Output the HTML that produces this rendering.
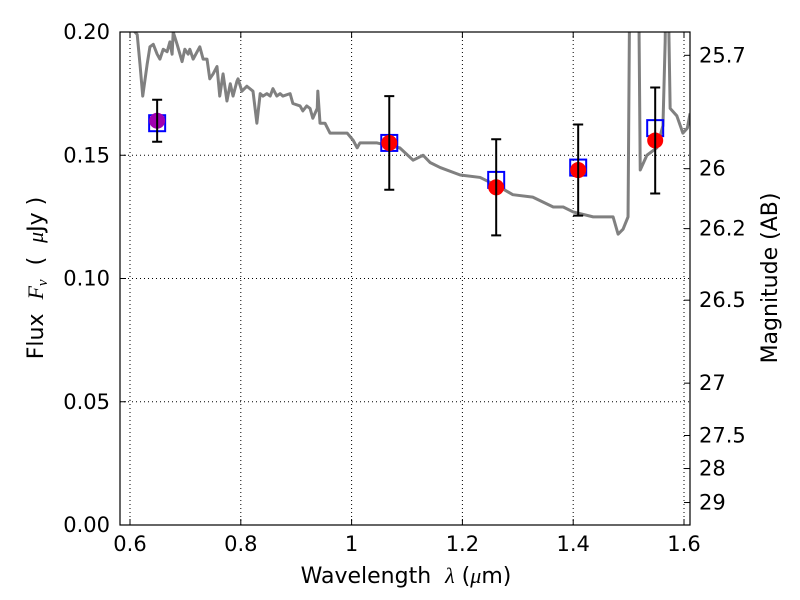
<!DOCTYPE html>
<html><head><meta charset="utf-8"><style>
body{margin:0;background:#fff}
svg{display:block;font-family:"DejaVu Sans","Liberation Sans",sans-serif}
</style></head><body>
<svg id="chart" width="800" height="600">
<g id="grid"></g>
<g id="spec"></g>
<g id="pts"></g>
<rect x="120" y="32" width="570" height="493" fill="none" stroke="#000" stroke-width="1.2"/>
<g id="ticks"></g>
<text x="406" y="583" font-size="22" text-anchor="middle" xml:space="preserve">Wavelength  <tspan font-style="italic" font-family="Liberation Serif">λ</tspan> (<tspan font-style="italic" font-family="Liberation Serif">μ</tspan>m)</text>
<text transform="translate(43,278) rotate(-90)" font-size="22" text-anchor="middle" xml:space="preserve">Flux  <tspan font-style="italic" font-family="Liberation Serif">F</tspan><tspan font-style="italic" font-family="Liberation Serif" font-size="15" dy="4">ν</tspan><tspan dy="-4">  (  </tspan><tspan font-style="italic" font-family="Liberation Serif">μ</tspan>Jy )</text>
<text transform="translate(777,278) rotate(-90)" font-size="22" text-anchor="middle">Magnitude (AB)</text>
</svg>
<script>
const xTicks=[0.6,0.8,1.0,1.2,1.4,1.6];
const xTickLabels=["0.6","0.8","1","1.2","1.4","1.6"];
const yTicks=[0,0.05,0.10,0.15,0.20];
const yTickLabels=["0.00","0.05","0.10","0.15","0.20"];
const magTicks=[25.7,26,26.2,26.5,27,27.5,28,29];
const magTickLabels=["25.7","26","26.2","26.5","27","27.5","28","29"];
const specWave=[0.605,0.613,0.618,0.623,0.631,0.636,0.642,0.649,0.654,0.660,0.667,0.672,0.676,0.678,0.685,0.694,0.699,0.705,0.708,0.714,0.726,0.732,0.739,0.744,0.750,0.757,0.762,0.768,0.775,0.781,0.786,0.793,0.795,0.802,0.811,0.822,0.829,0.835,0.840,0.847,0.853,0.858,0.865,0.871,0.876,0.889,0.894,0.907,0.912,0.919,0.925,0.930,0.938,0.939,0.943,0.952,0.961,0.974,0.992,1.003,1.010,1.015,1.028,1.046,1.064,1.087,1.111,1.129,1.142,1.160,1.196,1.232,1.268,1.291,1.327,1.364,1.382,1.400,1.436,1.448,1.472,1.481,1.490,1.499,1.503,1.517,1.521,1.533,1.551,1.562,1.566,1.569,1.575,1.587,1.598,1.606,1.611];
const specFlux=[0.201,0.199,0.187,0.174,0.187,0.194,0.195,0.191,0.189,0.193,0.192,0.196,0.191,0.200,0.195,0.188,0.193,0.191,0.193,0.189,0.194,0.189,0.189,0.181,0.183,0.186,0.174,0.183,0.172,0.179,0.174,0.180,0.181,0.176,0.178,0.176,0.163,0.175,0.174,0.175,0.174,0.177,0.174,0.175,0.174,0.175,0.171,0.170,0.168,0.170,0.169,0.165,0.169,0.176,0.163,0.163,0.159,0.159,0.159,0.156,0.153,0.155,0.155,0.155,0.154,0.153,0.148,0.150,0.147,0.145,0.142,0.141,0.137,0.134,0.133,0.129,0.129,0.127,0.125,0.125,0.125,0.118,0.120,0.125,0.25,0.25,0.144,0.150,0.153,0.162,0.196,0.25,0.169,0.166,0.159,0.161,0.167];
const obsWave=[0.649,1.068,1.261,1.409,1.548];
const obsFlux=[0.164,0.155,0.137,0.144,0.156];
const obsErr=[0.0085,0.019,0.0195,0.0185,0.0215];
const modelFlux=[0.163,0.155,0.140,0.145,0.161];
const X=v=>130+(v-0.6)*554;
const Y=v=>525-v*2465;
const M=m=>Y(Math.pow(10,(23.9-m)/2.5));
const NS="http://www.w3.org/2000/svg";
function mk(p,t,a){const e=document.createElementNS(NS,t);for(const k in a)e.setAttribute(k,a[k]);p.appendChild(e);return e;}
const grid=document.getElementById('grid'),ticks=document.getElementById('ticks');
xTicks.forEach((t,i)=>{const x=X(t);
 const g=mk(grid,'line',{x1:x,x2:x,y1:32,y2:525,stroke:'#000','stroke-width':1,'stroke-dasharray':'1,3'});
 
 
 mk(ticks,'line',{x1:x,x2:x,y1:525,y2:519,stroke:'#000'});
 mk(ticks,'line',{x1:x,x2:x,y1:32,y2:38,stroke:'#000'});
 const l=mk(ticks,'text',{x:x,y:551,'font-size':21,'text-anchor':'middle'});l.textContent=xTickLabels[i];
 
 
});
yTicks.forEach((t,i)=>{const y=Y(t);
 const g=mk(grid,'line',{x1:120,x2:690,y1:y,y2:y,stroke:'#000','stroke-width':1,'stroke-dasharray':'1,3'});
 
 
 mk(ticks,'line',{x1:120,x2:126,y1:y,y2:y,stroke:'#000'});
 const l=mk(ticks,'text',{x:110,y:y+7,'font-size':21,'text-anchor':'end'});l.textContent=yTickLabels[i];
 
 
});
magTicks.forEach((m,i)=>{const y=M(m);
 mk(ticks,'line',{x1:684,x2:690,y1:y,y2:y,stroke:'#000'});
 const l=mk(ticks,'text',{x:699,y:y+7,'font-size':21});l.textContent=magTickLabels[i];
 
 
});
const spec=document.getElementById('spec');
mk(spec,'clipPath',{id:'clip'}).appendChild(document.createElementNS(NS,'rect'));
document.querySelector('#clip rect').setAttribute('x',120);
document.querySelector('#clip rect').setAttribute('y',32);
document.querySelector('#clip rect').setAttribute('width',570);
document.querySelector('#clip rect').setAttribute('height',493);
const sp=mk(spec,'polyline',{points:specWave.map((w,i)=>X(w)+','+Y(specFlux[i])).join(' '),fill:'none',stroke:'#808080','stroke-width':3,'clip-path':'url(#clip)','stroke-linejoin':'round'});


const pts=document.getElementById('pts');
obsWave.forEach((w,i)=>{const x=X(w);
 const s=mk(pts,'rect',{x:x-8,y:Y(modelFlux[i])-8,width:16,height:16,fill:'none',stroke:'#0000ff','stroke-width':2});
 
 
 const c=mk(pts,'circle',{cx:x,cy:Y(obsFlux[i]),r:8,fill:i===0?'#a000b0':'#ff0000'});
 
 
 const t=Y(obsFlux[i]+obsErr[i]),b=Y(obsFlux[i]-obsErr[i]);
 const e=mk(pts,'path',{d:`M${x},${t}V${b}M${x-5},${t}H${x+5}M${x-5},${b}H${x+5}`,stroke:'#000','stroke-width':2,fill:'none'});
 
 
});
</script>
</body></html>
